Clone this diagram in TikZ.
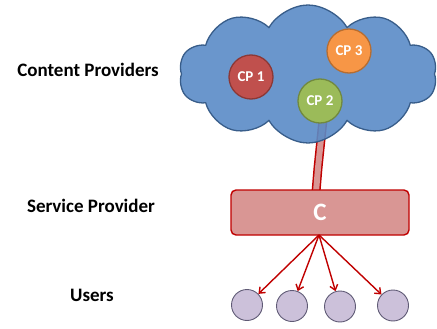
\documentclass[tikz,border=0pt]{standalone}
\usepackage{fontspec}
\setmainfont{Carlito}
\usetikzlibrary{shapes.symbols,arrows.meta}
\definecolor{cloudfill}{HTML}{5A8BC6}
\definecolor{cloudline}{HTML}{385D8A}
\definecolor{cpred}{HTML}{C0504D}
\definecolor{cpredline}{HTML}{8C3836}
\definecolor{cporange}{HTML}{F79646}
\definecolor{cporangeline}{HTML}{B66D31}
\definecolor{cpgreen}{HTML}{9BBB59}
\definecolor{cpgreenline}{HTML}{71893F}
\definecolor{boxfill}{HTML}{D99694}
\definecolor{boxline}{HTML}{C00000}
\definecolor{userfill}{HTML}{CCC1DA}
\definecolor{userline}{HTML}{5F5A75}
\tikzset{
  lbl/.style={font=\bfseries\fontsize{19}{21}\selectfont, text=black},
  cp/.style={circle, minimum size=44pt, inner sep=0pt, line width=1.3pt, text=white, font=\bfseries\fontsize{15}{17}\selectfont},
  user/.style={circle, minimum size=31pt, inner sep=0pt, fill=userfill, draw=userline, line width=0.9pt},
  arr/.style={draw=boxline, line width=1.4pt, -{Straight Barb[length=5pt,width=8pt]}},
}
\begin{document}
\begin{tikzpicture}[x=1pt,y=-1pt]
\useasboundingbox (0,0) rectangle (437,329);
% pipe (drawn first, seen through cloud)
\coordinate (p1) at (324,110);
\coordinate (p2) at (318,168);
\coordinate (p3) at (316,192);
\draw[line width=9pt, boxline] (p1) -- (p2) -- (p3);
\draw[line width=6pt, boxfill] (p1) -- (p2) -- (p3);
% cloud
\node[cloud, cloud puffs=10, cloud puff arc=120, aspect=1.9, minimum width=258pt, minimum height=138pt, inner sep=0pt,
  fill=cloudfill, fill opacity=0.9, draw=cloudline, line width=1.3pt] (cloud) at (308,74) {};
% content providers
\node[cp, fill=cpred, draw=cpredline] (cp1) at (251,77) {CP 1};
\node[cp, fill=cporange, draw=cporangeline] (cp3) at (349,51) {CP 3};
\node[cp, fill=cpgreen, draw=cpgreenline] (cp2) at (320,101) {CP 2};
% service provider box
\node[draw=boxline, fill=boxfill, line width=1.4pt, rounded corners=5pt, minimum width=178pt, minimum height=45pt,
  text=white, font=\bfseries\fontsize{25}{27}\selectfont] (c) at (320,212.5) {C};
% users
\node[user] (u1) at (247,305) {};
\node[user] (u2) at (292,306) {};
\node[user] (u3) at (340,306.5) {};
\node[user] (u4) at (393,305.5) {};
\coordinate (src) at (319,235);
\draw[arr] (src) -- (u1);
\draw[arr] (src) -- (u2);
\draw[arr] (src) -- (u3);
\draw[arr] (src) -- (u4);
% labels
\node[lbl] (lcp) at (88,70) {Content Providers};
\node[lbl] (lsp) at (91,206) {Service Provider};
\node[lbl] (lu) at (92,295) {Users};
\end{tikzpicture}
\end{document}
